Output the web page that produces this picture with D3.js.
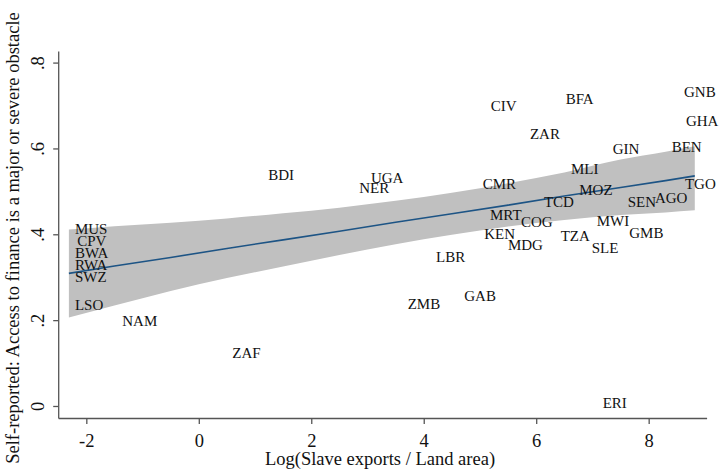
<!DOCTYPE html>
<html>
<head>
<meta charset="utf-8">
<script src="https://cdn.jsdelivr.net/npm/d3@7/dist/d3.min.js"></script>
<style>
  html, body { margin: 0; padding: 0; background: #fff; }
  svg { display: block; }
</style>
</head>
<body>
<script>
// Country codes with log(slave exports / land area) and the share of firms
// reporting access to finance as a major or severe obstacle.
const codes = ["MUS","CPV","BWA","RWA","SWZ","LSO","NAM","ZAF","BDI","NER","UGA","ZMB",
               "LBR","GAB","CMR","KEN","MRT","CIV","MDG","COG","ZAR","TCD","TZA","BFA",
               "MLI","MOZ","SLE","MWI","ERI","GIN","SEN","GMB","AGO","BEN","GNB","TGO","GHA"];
const slaveExports = [-2.31,-2.27,-2.31,-2.31,-2.31,-2.31,-1.467,0.489,1.129,2.747,2.955,3.608,
                      4.111,4.614,4.941,4.970,5.071,5.084,5.391,5.622,5.782,6.031,6.328,6.417,
                      6.511,6.659,6.879,6.968,7.075,7.253,7.520,7.548,8.005,8.302,8.521,8.538,8.556];
const financeObstacle = [0.413,0.385,0.357,0.329,0.301,0.235,0.198,0.124,0.538,0.508,0.531,0.237,
                         0.348,0.256,0.518,0.400,0.444,0.699,0.375,0.429,0.633,0.475,0.397,0.715,
                         0.553,0.503,0.369,0.431,0.006,0.598,0.476,0.404,0.485,0.603,0.731,0.517,0.663];

// Linear fit with its 95% confidence band.
const fitX  = [-2.31, -1.5, -0.5, 0.5, 1.5, 2.5, 3.5, 4.5, 5.5, 6.5, 7.5, 8.3, 8.82];
const fitY  = [0.309, 0.326, 0.346, 0.367, 0.387, 0.407, 0.428, 0.448, 0.468, 0.489, 0.509, 0.525, 0.536];
const fitLo = [0.206, 0.234, 0.268, 0.298, 0.325, 0.352, 0.377, 0.399, 0.418, 0.433, 0.445, 0.451, 0.456];
const fitHi = [0.411, 0.419, 0.427, 0.437, 0.449, 0.462, 0.478, 0.497, 0.519, 0.544, 0.574, 0.592, 0.605];

// Axis ticks
const xTicks = [-2, 0, 2, 4, 6, 8];
const yTicks = [0, 0.2, 0.4, 0.6, 0.8];

const xTitle = "Log(Slave exports / Land area)";
const yTitle = "Self-reported: Access to finance is a major or severe obstacle";

const W = 719, H = 470;
const serif = "'Liberation Serif', 'Times New Roman', Times, serif";
const axisColor = "#555";

const svg = d3.select("body").append("svg")
  .attr("width", W).attr("height", H)
  .style("background", "#fff");

const x = d3.scaleLinear().domain([-2.5, 9.03]).range([58.2, 706.6]);
const y = d3.scaleLinear().domain([-0.028, 0.827]).range([418, 51]);

// Confidence band
const band = fitX.map((v, i) => ({ x: v, lo: fitLo[i], hi: fitHi[i], y: fitY[i] }));
svg.append("path")
  .datum(band)
  .attr("fill", "#c0c0c0")
  .attr("d", d3.area().curve(d3.curveMonotoneX)
    .x(d => x(d.x)).y0(d => y(d.lo)).y1(d => y(d.hi)));

// Fitted line
svg.append("path")
  .datum(band)
  .attr("fill", "none")
  .attr("stroke", "#1d5485")
  .attr("stroke-width", 1.6)
  .attr("d", d3.line().x(d => x(d.x)).y(d => y(d.y)));

// Country labels placed to the right of each (invisible) point
const pts = codes.map((c, i) => ({ c, x: slaveExports[i], y: financeObstacle[i] }));
svg.append("g")
  .selectAll("text")
  .data(pts)
  .join("text")
  .attr("x", d => x(d.x) + 6)
  .attr("y", d => y(d.y))
  .attr("dy", "0.33em")
  .attr("font-family", serif)
  .attr("font-size", 15)
  .attr("fill", "#111")
  .text(d => d.c);

// Axes
const fmtY = d => d === 0 ? "0" : d3.format(".1f")(d).replace(/^0/, "");

const gy = svg.append("g")
  .attr("transform", `translate(${x(-2.5)},0)`)
  .call(d3.axisLeft(y).tickValues(yTicks).tickFormat(fmtY).tickSize(5).tickSizeOuter(0));
gy.selectAll("text")
  .attr("transform", "rotate(-90)")
  .attr("x", 0).attr("y", -14).attr("dy", 0)
  .attr("text-anchor", "middle");

const gx = svg.append("g")
  .attr("transform", `translate(0,${y(-0.028)})`)
  .call(d3.axisBottom(x).tickValues(xTicks).tickFormat(d3.format("d")).tickSize(6).tickSizeOuter(0));
gx.selectAll("text").attr("y", 16);

for (const g of [gx, gy]) {
  g.select(".domain").attr("stroke", axisColor).attr("stroke-width", 1.3);
  g.selectAll(".tick line").attr("stroke", axisColor).attr("stroke-width", 1.3);
  g.selectAll("text")
    .attr("font-family", serif)
    .attr("font-size", 18.5)
    .attr("fill", "#111");
}
gx.selectAll("text").text(d => String(d).replace("\u2212", "-"));

// Axis titles
svg.append("text")
  .attr("x", 380).attr("y", 465)
  .attr("text-anchor", "middle")
  .attr("font-family", serif).attr("font-size", 18.5).attr("fill", "#111")
  .text(xTitle);

svg.append("text")
  .attr("transform", "translate(19,238) rotate(-90)")
  .attr("text-anchor", "middle")
  .attr("font-family", serif).attr("font-size", 18.5).attr("fill", "#111")
  .text(yTitle);
</script>
</body>
</html>
